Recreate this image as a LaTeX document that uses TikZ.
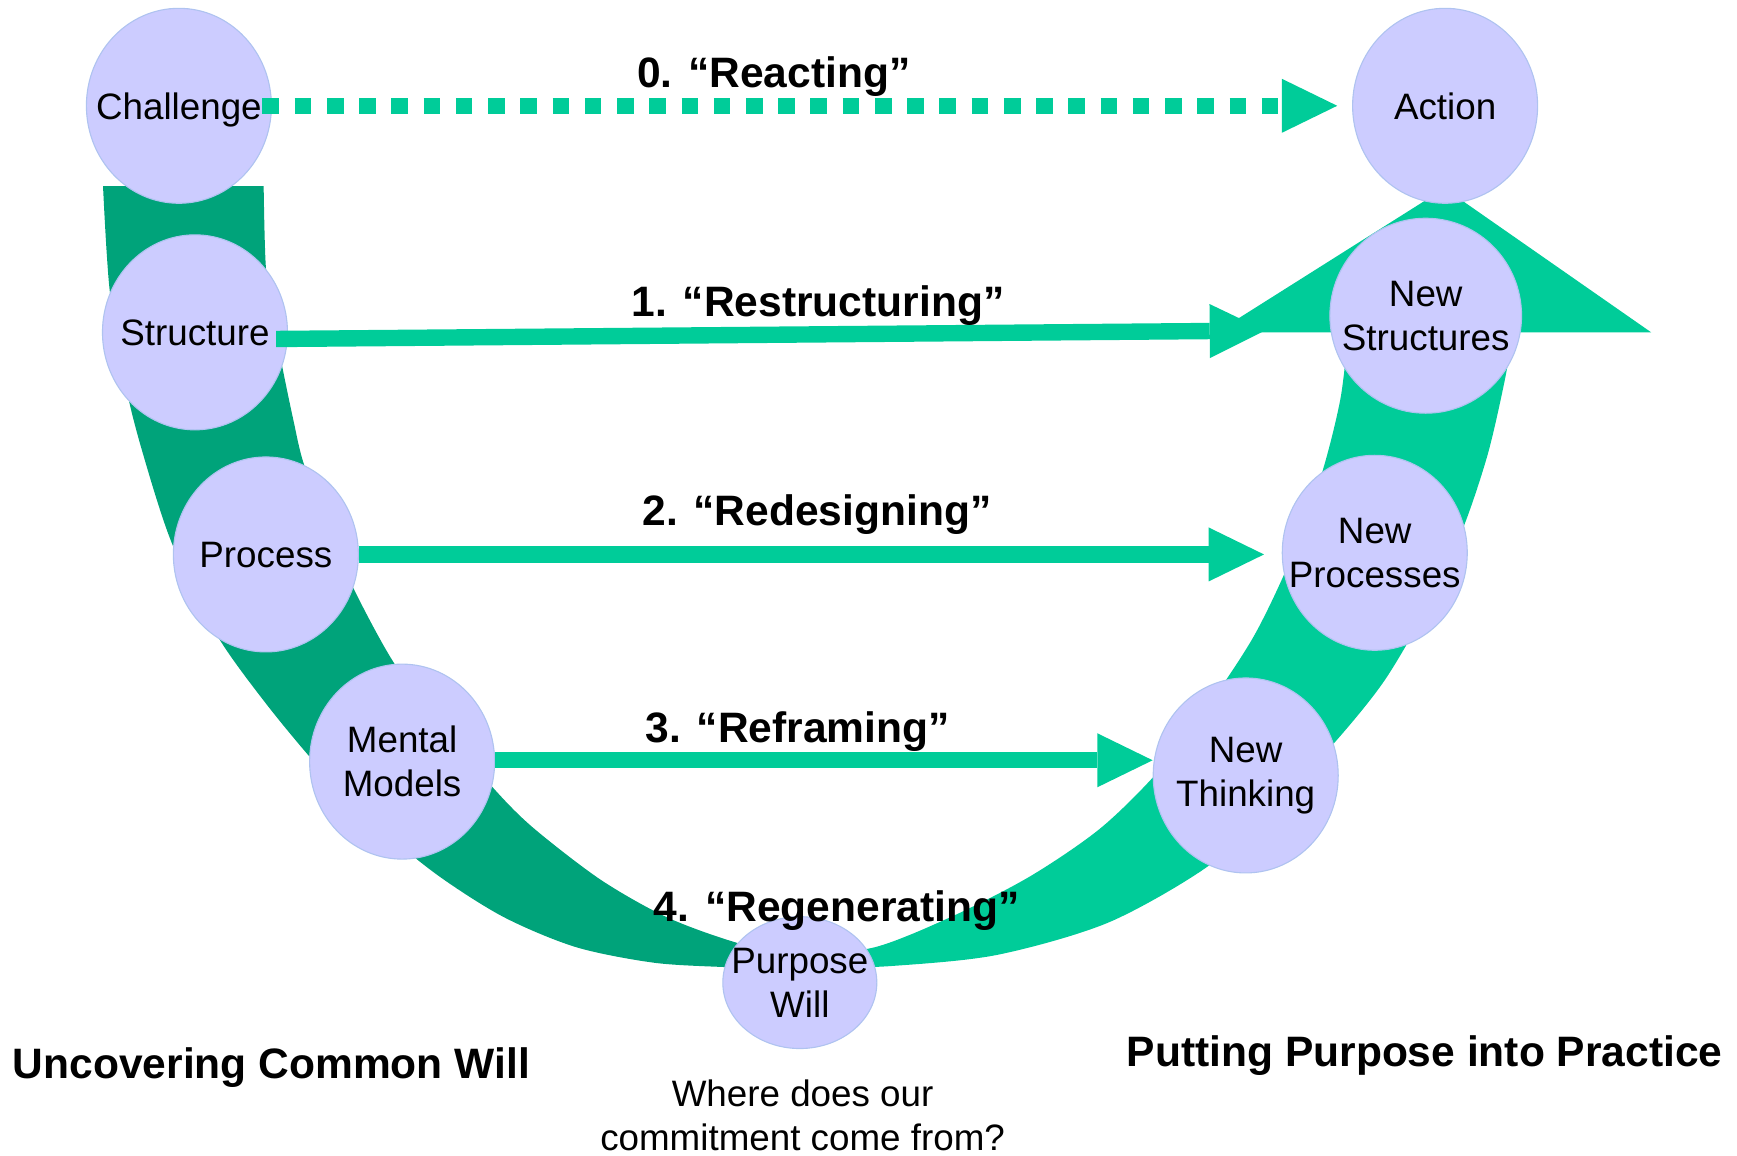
\documentclass[tikz,border=0pt]{standalone}
\usepackage{fontspec}
\setmainfont{Liberation Sans}
\usetikzlibrary{arrows.meta,shapes.geometric}
\definecolor{dkgreen}{HTML}{00A37A}
\definecolor{ltgreen}{HTML}{00CC99}
\definecolor{lav}{HTML}{CCCCFF}
\definecolor{lavline}{HTML}{AFC3F0}
\begin{document}
\begin{tikzpicture}[x=0.5pt,y=-0.5pt,
  bub/.style={ellipse, fill=lav, draw=lavline, line width=0.5pt,
    minimum width=83.5pt, minimum height=88pt, inner sep=0pt},
  txt/.style={font=\fontsize{16.6}{19.8}\selectfont, align=center, inner sep=0pt},
  txtone/.style={txt, text depth=0pt},
  stagelbl/.style={font=\fontsize{19.2}{23}\selectfont\bfseries, inner sep=0pt, anchor=base},
  flow/.style={draw=ltgreen, line width=7.4pt,
    -{Triangle[length=25pt,width=24.4pt,line width=0pt]}},
  react/.style={flow, dash pattern=on 7.5pt off 7.05pt}
]
\useasboundingbox (0,0) rectangle (1568,1043.5);

% U-shaped band, left (dark) half
\fill[dkgreen] (93,168) -- plot[smooth, tension=0.5] coordinates {
  (238,168) (240,241) (247,290) (256,337) (265,380) (274,418) (296,478)
  (320,533) (356,599) (400,657) (445,711) (481,747) (542,794) (602,828)
  (665,851) (722,863)}
  -- plot[smooth, tension=0.5] coordinates {
  (722,875) (655,873) (590,869) (520,855) (455,828) (395,790) (340,745)
  (290,695) (240,635) (195,572) (155,490) (128,406) (113,346) (99,262)
  (93,168)} -- cycle;

% right (light) half with arrowhead
\fill[ltgreen] plot[smooth, tension=0.5] coordinates {
  (722,863) (790,855) (860,827) (930,791) (993,748) (1045,697) (1090,638)
  (1132,574) (1165,505) (1193,428) (1210,360) (1217,300)}
  -- (1098,300) -- (1304,170) -- (1490.5,300)
  -- plot[smooth, tension=0.5] coordinates {
  (1366,300) (1358,345) (1343,410) (1321,476) (1290,545) (1250,614)
  (1205,670) (1150,728) (1089,783) (1000,833) (900,862) (805,872) (722,875)}
  -- cycle;

% circles
\node[bub, label={[txtone]center:Challenge}] (ch) at (161.5,95.5) {};
\node[bub, label={[txtone]center:Action}] (ac) at (1304.5,95.5) {};
\node[bub, label={[txtone]center:Structure}] (st) at (176,300) {};
\node[bub, minimum width=86.5pt, label={[txt]center:{New\\Structures}}] (ns) at (1287,285) {};
\node[bub, label={[txtone]center:Process}] (pr) at (240,500.5) {};
\node[bub, label={[txt]center:{New\\Processes}}] (np) at (1241,499) {};
\node[bub, label={[txt]center:{Mental\\Models}}] (mm) at (363,687.5) {};
\node[bub, label={[txt]center:{New\\Thinking}}] (nt) at (1124.5,700) {};
\node[bub, minimum width=69.5pt, minimum height=59.5pt,
  label={[txt]center:{Purpose\\Will}}] (pw) at (722,887) {};

% connectors
\draw[react, shorten <=-4.3pt, shorten >=6.7pt] (ch.east) -- (ac.west);
\draw[flow] ([xshift=-5.35pt,yshift=-3pt]st.east) -- ([xshift=-29pt,yshift=-6.7pt]ns.west);
\draw[flow, shorten >=8pt] (pr.east) -- (pr.east -| np.west);
\draw[flow] ([yshift=0.6pt]mm.east) -- ([yshift=0.6pt]mm.east -| nt.west);

% stage labels
\node[stagelbl] (l0) at (698.5,79) {0. “Reacting”};
\node[stagelbl] (l1) at (738.5,286) {1. “Restructuring”};
\node[stagelbl] (l2) at (737.5,474) {2. “Redesigning”};
\node[stagelbl] (l3) at (720,670) {3. “Reframing”};
\node[stagelbl] (l4) at (755.3,832) {4. “Regenerating”};
\node[stagelbl] (lu) at (245,973.5) {Uncovering Common Will};
\node[stagelbl] (lp) at (1286,963) {Putting Purpose into Practice};
\node[txt] (q) at (724.5,1007) {Where does our\\commitment come from?};
\end{tikzpicture}
\end{document}
